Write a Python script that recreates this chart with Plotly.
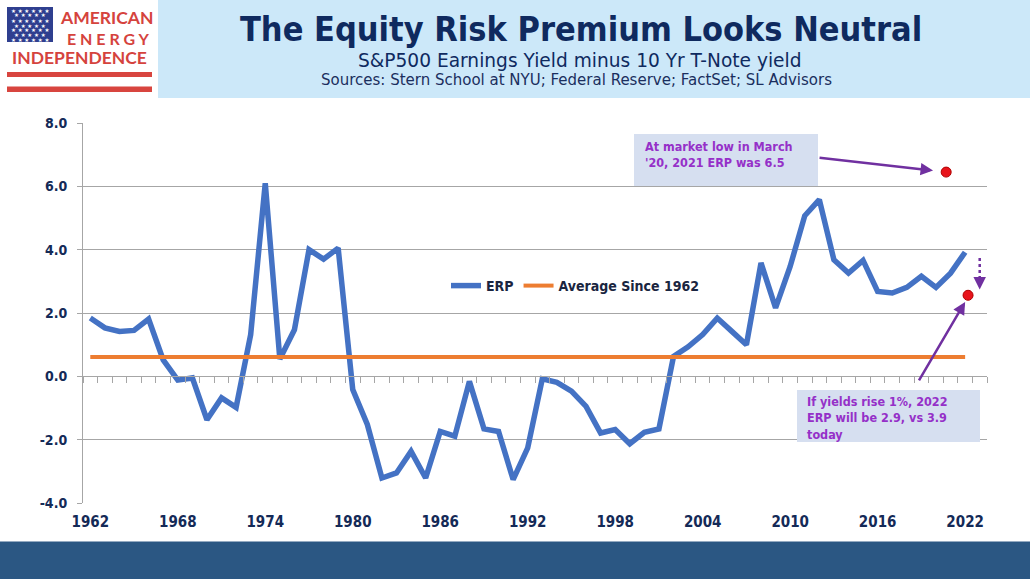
import plotly.graph_objects as go

# ---------------- data ----------------
years = list(range(1962, 2023))
erp = [1.84, 1.53, 1.42, 1.45, 1.81, 0.52, -0.12, -0.05, -1.37, -0.68,
       -0.98, 1.32, 6.10, 0.55, 1.47, 4.00, 3.70, 4.05, -0.42, -1.52,
       -3.21, -3.05, -2.37, -3.21, -1.74, -1.89, -0.16, -1.66, -1.74, -3.26,
       -2.26, -0.08, -0.19, -0.47, -0.95, -1.79, -1.68, -2.13, -1.77, -1.66,
       0.63, 0.93, 1.32, 1.84, 1.42, 1.00, 3.58, 2.16, 3.47, 5.07,
       5.58, 3.68, 3.26, 3.66, 2.68, 2.63, 2.81, 3.16, 2.81, 3.26,
       3.92]
avg_since_1962 = 0.61
avg_values = [avg_since_1962] * len(years)
dot_years = [2020.7, 2022.2]
dot_values = [6.45, 2.56]
x_tick_years = list(range(1962, 2023, 6))
y_ticks = [-4, -2, 0, 2, 4, 6, 8]
y_tick_labels = ["-4.0", "-2.0", "0.0", "2.0", "4.0", "6.0", "8.0"]

# ---------------- geometry helpers (pixel -> paper) ----------------
W, H = 1030, 579
L, R, T, B = 83, 987, 123, 503
def px(X):
    return (X - L) / (R - L)
def py(Y):
    return (B - Y) / (B - T)

FONT = "DejaVu Sans Condensed, DejaVu Sans, Verdana, sans-serif"
FONT_WIDE = "DejaVu Sans, Verdana, sans-serif"
NAVY = "#142a57"
PURPLE = "#9530c8"
ARROW = "#7030A0"
GRID = "#a6a6a6"

fig = go.Figure()
fig.add_trace(go.Scatter(x=years, y=erp, mode="lines", name="ERP",
                         line=dict(color="#4472C4", width=5.5),
                         hoverinfo="skip"))
fig.add_trace(go.Scatter(x=years, y=avg_values, mode="lines", name="Average Since 1962",
                         line=dict(color="#ED7D31", width=4), xaxis="x2",
                         hoverinfo="skip"))
fig.add_trace(go.Scatter(x=dot_years, y=dot_values, mode="markers", showlegend=False,
                         marker=dict(color="#e8141b", size=10, line=dict(color="#b00000", width=1)),
                         xaxis="x2", hoverinfo="skip"))

shapes = []
# header band
shapes.append(dict(type="rect", xref="paper", yref="paper", x0=px(158), x1=px(1030),
                   y0=py(0), y1=py(98), fillcolor="#cce8f9", line=dict(width=0), layer="below"))
# bottom band
shapes.append(dict(type="rect", xref="paper", yref="paper", x0=px(0), x1=px(1030),
                   y0=py(541.5), y1=py(579), fillcolor="#2b5783", line=dict(width=0), layer="below"))
# logo flag + stripes
shapes.append(dict(type="rect", xref="paper", yref="paper", x0=px(7), x1=px(53),
                   y0=py(7), y1=py(42), fillcolor="#2f3f8f", line=dict(width=0)))
for y0, y1 in [(72, 77), (86.5, 92)]:
    shapes.append(dict(type="rect", xref="paper", yref="paper", x0=px(7), x1=px(152),
                       y0=py(y0), y1=py(y1), fillcolor="#d8453f", line=dict(width=0)))
# annotation boxes
shapes.append(dict(type="rect", xref="paper", yref="paper", x0=px(634), x1=px(818),
                   y0=py(134), y1=py(186), fillcolor="#d6dff0", line=dict(width=0)))
shapes.append(dict(type="rect", xref="paper", yref="paper", x0=px(797), x1=px(980),
                   y0=py(390), y1=py(442), fillcolor="#d6dff0", line=dict(width=0)))
# dotted arrow shaft
shapes.append(dict(type="line", xref="x", yref="y", x0=2023.0, x1=2023.0, y0=3.74, y1=2.98,
                   line=dict(color=ARROW, width=2.5, dash="dot")))

annotations = []
def text(X, Y, s, size, color, bold=False, xanchor="center", yanchor="middle", family=FONT):
    annotations.append(dict(xref="paper", yref="paper", x=px(X), y=py(Y), text=s,
                            showarrow=False, xanchor=xanchor, yanchor=yanchor, align="left",
                            font=dict(family=family, size=size, color=color,
                                      weight="bold" if bold else "normal")))

# header texts
text(581, 29, "The Equity Risk Premium Looks Neutral", 34, "#0f2a5f", bold=True)
text(579, 60, "S&amp;P500 Earnings Yield minus 10 Yr T-Note yield", 18.6, "#0f2a5f", family=FONT_WIDE)
text(576, 80.5, "Sources: Stern School at NYU; Federal Reserve; FactSet; SL Advisors", 15, "#1b2f5e",
     family=FONT_WIDE)

# logo texts
LOGO_FONT = "Lato, Open Sans, sans-serif"
text(106, 17.5, "AMERICAN", 17.5, "#d5433d", bold=True, family=LOGO_FONT)
text(108, 38.5, "E N E R G Y", 16, "#d5433d", bold=True, family=LOGO_FONT)
text(79.5, 57.5, "INDEPENDENCE", 17.5, "#d5433d", bold=True, family=LOGO_FONT)
for i, Y in enumerate([10.5, 15.5, 20.5, 25.5, 30.5, 35.5, 40]):
    s = "★ ★ ★ ★ ★ ★" if i % 2 == 0 else "★ ★ ★ ★ ★"
    text(30, Y, s, 5.5, "#ffffff", family="DejaVu Sans")

# box texts
text(643, 137, "At market low in March<br>'20, 2021 ERP was 6.5", 12.5, PURPLE, bold=True,
     xanchor="left", yanchor="top")
text(805, 392, "If yields rise 1%, 2022<br>ERP will be 2.9, vs 3.9<br>today", 12.5, PURPLE, bold=True,
     xanchor="left", yanchor="top")

# arrows
annotations.append(dict(xref="x", yref="y", x=2019.8, y=6.50, ax=-115, ay=-13, text="",
                        showarrow=True, arrowhead=2, arrowsize=1, arrowwidth=2.5, arrowcolor=ARROW))
annotations.append(dict(xref="x", yref="y", x=2022.0, y=2.35, ax=-47, ay=80, text="",
                        showarrow=True, arrowhead=2, arrowsize=1, arrowwidth=2.5, arrowcolor=ARROW))
annotations.append(dict(xref="x", yref="y", x=2023.0, y=2.74, ax=0, ay=-9, text="",
                        showarrow=True, arrowhead=2, arrowsize=1, arrowwidth=2.5, arrowcolor=ARROW))

fig.update_layout(
    width=W, height=H,
    margin=dict(l=L, r=W - R, t=T, b=H - B, pad=0),
    paper_bgcolor="white", plot_bgcolor="white",
    showlegend=True,
    legend=dict(orientation="h", x=px(446), y=py(286), xanchor="left", yanchor="middle",
                bgcolor="rgba(0,0,0,0)", itemwidth=30,
                font=dict(family=FONT, size=14, color="#1a2540", weight="bold")),
    xaxis=dict(range=[1961.5, 2023.5], tickmode="array", tickvals=x_tick_years,
               ticktext=[str(y) for y in x_tick_years], showgrid=False, zeroline=False,
               showline=False, ticks="", ticklabelstandoff=8,
               tickfont=dict(family=FONT, size=15, color=NAVY, weight="bold")),
    xaxis2=dict(range=[1961.5, 2023.5], overlaying="x", anchor="free", position=1/3,
                side="bottom", tickmode="linear", tick0=1961.5, dtick=1, ticks="outside",
                ticklen=6, tickwidth=1, tickcolor=GRID, showticklabels=False, showline=True,
                linecolor=GRID, linewidth=1, showgrid=False, zeroline=False),
    yaxis=dict(range=[-4, 8], tickmode="array", tickvals=y_ticks, ticktext=y_tick_labels,
               showgrid=True, gridcolor=GRID, gridwidth=1, zeroline=False, showline=True,
               linecolor=GRID, linewidth=1, ticks="outside", ticklen=5, tickcolor=GRID,
               ticklabelstandoff=7,
               tickfont=dict(family=FONT, size=14, color=NAVY, weight="bold")),
    shapes=shapes, annotations=annotations,
)

fig.write_html("out.html", config={"displayModeBar": False},
               post_script="document.body.style.margin='0';document.body.style.overflow='hidden';")
